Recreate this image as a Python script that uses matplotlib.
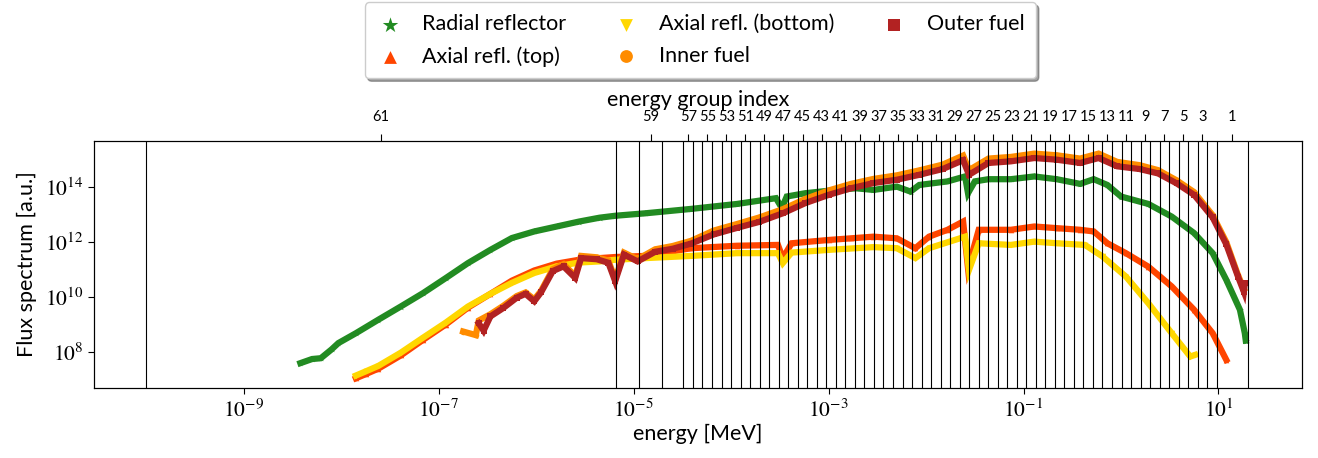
import numpy as np
import matplotlib
matplotlib.use("Agg")
import matplotlib.pyplot as plt

plt.rcParams['font.family'] = ['Lato', 'DejaVu Sans']
plt.rcParams['mathtext.fontset'] = 'stix'

# group boundaries in MeV, from high to low energy
group_bounds = [20.0, 9.59, 7.66, 6.11, 4.88, 3.90, 3.11, 2.49, 1.99, 1.59, 1.27,
                1.012, 0.808, 0.645, 0.515, 0.411, 0.3285, 0.2623, 0.2095, 0.1673,
                0.1336, 0.1067, 0.0852, 0.0680, 0.0543, 0.0434, 0.0346, 0.0277,
                0.0221, 0.01764, 0.01408, 0.01125, 8.98e-3, 7.17e-3, 5.73e-3,
                4.57e-3, 3.65e-3, 2.92e-3, 2.33e-3, 1.86e-3, 1.485e-3, 1.186e-3,
                9.47e-4, 7.56e-4, 6.04e-4, 4.82e-4, 3.85e-4, 3.07e-4, 2.455e-4,
                1.96e-4, 1.565e-4, 1.25e-4, 9.98e-5, 7.97e-5, 6.37e-5, 5.08e-5,
                4.06e-5, 3.24e-5, 1.96e-5, 1.14e-5, 6.55e-6, 1.0e-10]

# spectra, log10 of energy [MeV] and log10 of flux [a.u.]
radial_loge = [-8.42, -8.30, -8.21, -8.10, -8.03, -7.85, -7.62, -7.39, -7.16, -6.93,
               -6.70, -6.47, -6.25, -6.02, -5.79, -5.56, -5.35, -5.19, -4.88, -4.41,
               -3.94, -3.54, -3.48, -3.43, -3.24, -3.00, -2.72, -2.54, -2.30, -2.16,
               -2.07, -1.78, -1.60, -1.57, -1.50, -1.36, -1.13, -0.89, -0.66, -0.42,
               -0.28, -0.14, 0.00, 0.28, 0.52, 0.75, 0.94, 1.08, 1.22, 1.27, 1.28]
radial_logf = [7.60, 7.75, 7.78, 8.10, 8.33, 8.69, 9.18, 9.66, 10.15, 10.69,
               11.24, 11.72, 12.15, 12.39, 12.57, 12.75, 12.89, 12.96, 13.05, 13.21,
               13.39, 13.60, 13.24, 13.66, 13.78, 13.87, 13.96, 13.90, 14.02, 13.84,
               14.08, 14.21, 14.39, 13.78, 14.21, 14.29, 14.29, 14.39, 14.29, 14.12,
               14.29, 14.08, 13.66, 13.39, 12.93, 12.33, 11.60, 10.63, 9.54, 8.69, 8.42]

top_loge = [-7.85, -7.75, -7.62, -7.39, -7.16, -6.93, -6.70, -6.47, -6.25, -6.02,
            -5.79, -5.56, -5.35, -5.19, -4.88, -4.41, -3.94, -3.52, -3.47, -3.38,
            -3.00, -2.77, -2.54, -2.30, -2.11, -1.97, -1.78, -1.62, -1.57, -1.46,
            -1.13, -0.89, -0.66, -0.42, -0.28, -0.14, 0.05, 0.28, 0.52, 0.75,
            0.94, 1.08]
top_logf = [7.05, 7.20, 7.40, 7.88, 8.45, 9.00, 9.62, 10.12, 10.60, 10.97,
            11.22, 11.36, 11.42, 11.46, 11.50, 11.78, 11.87, 11.90, 11.42, 11.96,
            12.08, 12.14, 12.20, 12.14, 11.78, 12.20, 12.45, 12.75, 11.05, 12.45,
            12.45, 12.57, 12.51, 12.45, 12.39, 11.96, 11.60, 11.11, 10.39, 9.54,
            8.69, 7.72]

bottom_loge = [-7.85, -7.75, -7.62, -7.39, -7.16, -6.93, -6.70, -6.47, -6.25, -6.02,
               -5.79, -5.56, -5.35, -5.19, -4.88, -4.41, -3.94, -3.52, -3.47, -3.38,
               -3.00, -2.54, -2.30, -2.11, -1.97, -1.60, -1.56, -1.46, -1.13, -0.89,
               -0.66, -0.37, -0.19, 0.05, 0.28, 0.52, 0.71, 0.76]
bottom_logf = [7.15, 7.30, 7.50, 7.98, 8.53, 9.07, 9.66, 10.12, 10.52, 10.88,
               11.12, 11.26, 11.30, 11.36, 11.42, 11.50, 11.60, 11.60, 11.24, 11.62,
               11.72, 11.82, 11.78, 11.42, 11.78, 12.20, 10.99, 11.96, 11.90, 12.02,
               11.96, 11.90, 11.48, 10.75, 9.78, 8.69, 7.84, 7.90]

inner_loge = [-6.75, -6.62, -6.59, -6.47, -6.34, -6.20, -6.11, -6.02, -5.95, -5.83,
              -5.72, -5.60, -5.54, -5.38, -5.26, -5.19, -5.10, -4.96, -4.78, -4.60,
              -4.41, -4.18, -3.94, -3.71, -3.47, -3.24, -3.00, -2.77, -2.54, -2.30,
              -2.07, -1.83, -1.62, -1.56, -1.36, -1.13, -0.89, -0.66, -0.42, -0.23,
              -0.04, 0.19, 0.38, 0.57, 0.75, 0.94, 1.08, 1.20, 1.26]
inner_logf = [8.75, 8.62, 9.15, 9.38, 9.68, 10.04, 10.17, 9.92, 10.23, 11.02,
              11.20, 10.77, 11.50, 11.45, 11.33, 10.65, 11.62, 11.38, 11.74, 11.86,
              12.05, 12.42, 12.66, 12.90, 13.20, 13.57, 13.88, 14.12, 14.30, 14.43,
              14.61, 14.82, 15.15, 14.62, 15.04, 15.10, 15.22, 15.16, 15.04, 15.22,
              14.92, 14.80, 14.62, 14.25, 13.82, 12.98, 12.00, 10.80, 10.30]

outer_loge = [-6.59, -6.54, -6.47, -6.34, -6.20, -6.11, -6.02, -5.95, -5.83, -5.72,
              -5.60, -5.54, -5.38, -5.26, -5.19, -5.10, -4.96, -4.78, -4.60, -4.41,
              -4.18, -3.94, -3.71, -3.47, -3.24, -3.00, -2.77, -2.54, -2.30, -2.07,
              -1.83, -1.62, -1.56, -1.36, -1.13, -0.89, -0.66, -0.42, -0.23, -0.04,
              0.19, 0.38, 0.57, 0.75, 0.94, 1.08, 1.20, 1.26, 1.27]
outer_logf = [9.05, 8.78, 9.30, 9.60, 9.98, 10.12, 9.85, 10.18, 10.95, 11.12,
              10.70, 11.42, 11.38, 11.25, 10.58, 11.55, 11.30, 11.65, 11.76, 11.95,
              12.28, 12.52, 12.74, 13.05, 13.42, 13.72, 13.96, 14.15, 14.27, 14.45,
              14.66, 14.98, 14.45, 14.88, 14.94, 15.06, 15.00, 14.88, 15.06, 14.76,
              14.66, 14.50, 14.14, 13.72, 12.90, 11.92, 10.75, 10.20, 10.50]

series = [
    ("Radial reflector", radial_loge, radial_logf, "forestgreen", "*", 26),
    ("Axial refl. (top)", top_loge, top_logf, "orangered", "^", 16),
    ("Axial refl. (bottom)", bottom_loge, bottom_logf, "gold", "v", 16),
    ("Inner fuel", inner_loge, inner_logf, "darkorange", "o", 16),
    ("Outer fuel", outer_loge, outer_logf, "firebrick", "s", 16),
]

fig = plt.figure(figsize=(13.18, 4.58), dpi=100)
ax = fig.add_axes([0.0713, 0.1535, 0.9166, 0.5393])

for name, le, lf, col, mk, sz in series:
    e = 10.0 ** np.array(le)
    f = 10.0 ** np.array(lf)
    ax.plot(e, f, '-', color=col, lw=4.5, solid_joinstyle='miter', zorder=2)
    ax.scatter(e, f, s=sz, color=col, marker=mk, linewidths=0, label=name, zorder=2)

# group boundaries
for b in group_bounds:
    ax.axvline(b, color='black', lw=0.8, zorder=3)

ax.set_xscale('log')
ax.set_yscale('log')
ax.set_xlim(2.9e-11, 72)
ax.set_ylim(5.1e6, 4.9e15)

xt = [1e-9, 1e-7, 1e-5, 1e-3, 1e-1, 1e1]
ax.set_xticks(xt)
ax.set_xticklabels([r'$10^{-9}$', r'$10^{-7}$', r'$10^{-5}$', r'$10^{-3}$',
                    r'$10^{-1}$', r'$10^{1}$'])
yt = [1e8, 1e10, 1e12, 1e14]
ax.set_yticks(yt)
ax.set_yticklabels([r'$10^{8}$', r'$10^{10}$', r'$10^{12}$', r'$10^{14}$'])
ax.minorticks_off()
ax.tick_params(labelsize=15.5, length=4)
ax.set_xlabel('energy [MeV]', fontsize=15.5, labelpad=2)
ax.set_ylabel('Flux spectrum [a.u.]', fontsize=15.5, labelpad=6)

# top axis: group index at the centre of each group
ax2 = ax.twiny()
ax2.set_xscale('log')
ax2.set_xlim(ax.get_xlim())
bounds = np.array(group_bounds)
centres = np.sqrt(bounds[:-1] * bounds[1:])
idx = np.arange(1, len(centres) + 1)
ax2.set_xticks(centres[::2])
ax2.set_xticklabels([str(i) for i in idx[::2]],
                    family=['Liberation Sans Narrow', 'Lato'], fontsize=10.5)
ax2.minorticks_off()
ax2.tick_params(length=5, pad=7)
ax2.set_xlabel('energy group index', fontsize=15.5, labelpad=3)

leg = ax.legend(loc='lower center', bbox_to_anchor=(0.502, 1.252), ncol=3,
                fontsize=15.5, shadow=True, markerscale=2.3, columnspacing=2.2,
                handlelength=1.2, handletextpad=0.9, borderpad=0.55,
                labelspacing=0.55, borderaxespad=0.0)

fig.savefig('out.png', dpi=100)
